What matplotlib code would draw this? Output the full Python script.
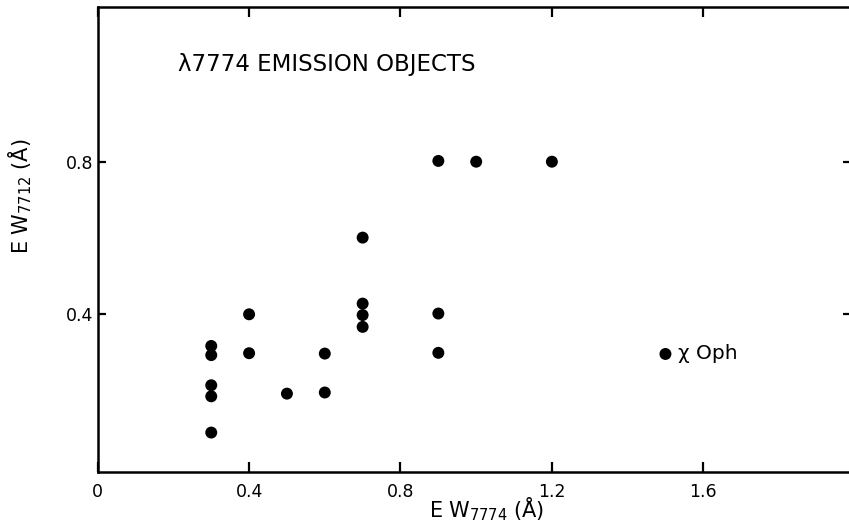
import matplotlib
matplotlib.use("Agg")
import matplotlib.pyplot as plt

# ---- data ----
ew7774 = [0.3, 0.3, 0.3, 0.3, 0.3,
          0.4, 0.4,
          0.5,
          0.6, 0.6,
          0.7, 0.7, 0.7, 0.7,
          0.9, 0.9, 0.9,
          1.0,
          1.2]
ew7712 = [0.317, 0.293, 0.214, 0.185, 0.090,
          0.400, 0.298,
          0.192,
          0.297, 0.195,
          0.601, 0.428, 0.398, 0.367,
          0.802, 0.402, 0.299,
          0.800,
          0.800]
chi_oph_x = [1.5]
chi_oph_y = [0.296]
chi_oph_label = "χ Oph"

x_ticks = [0, 0.4, 0.8, 1.2, 1.6]
x_tick_labels = ["0", "0.4", "0.8", "1.2", "1.6"]
y_ticks = [0.4, 0.8]
y_tick_labels = ["0.4", "0.8"]

title_text = "λ7774 EMISSION OBJECTS"
x_label = r"E W$_{\mathrm{7774}}$ (Å)"
y_label = r"E W$_{\mathrm{7712}}$ (Å)"

# ---- style ----
plt.rcParams['font.family'] = ['DejaVu Sans']
plt.rcParams['mathtext.fontset'] = 'dejavusans'

W, H = 849, 525
fig = plt.figure(figsize=(W / 100, H / 100), dpi=100)
fig.patch.set_facecolor('white')
ax = fig.add_axes([97.7 / W, 53.3 / H, 753.2 / W, 464.4 / H])

ax.scatter(ew7774, ew7712, s=74, color='black', edgecolors='none', zorder=3)
ax.scatter(chi_oph_x, chi_oph_y, s=74, color='black', edgecolors='none', zorder=3)
ax.annotate(chi_oph_label, xy=(chi_oph_x[0], chi_oph_y[0]), xytext=(9, 0),
            textcoords='offset points', ha='left', va='center', fontsize=14.5)

ax.set_xlim(0, 1.99)
ax.set_ylim(-0.0126, 1.2047)

ax.set_xticks(x_ticks)
ax.set_xticklabels(x_tick_labels)
ax.set_yticks(y_ticks)
ax.set_yticklabels(y_tick_labels)

ax.tick_params(axis='x', direction='in', length=7.5, width=1.6, top=True,
               labelsize=12.5, pad=8)
ax.tick_params(axis='y', direction='in', length=6, width=1.6, right=True,
               labelsize=12.5, pad=3)

for side in ['left', 'bottom', 'top']:
    ax.spines[side].set_linewidth(1.8)
ax.spines['right'].set_visible(False)

ax.text(0.212, 1.0535, title_text, ha='left', va='center', fontsize=16.5)

ax.set_xlabel(x_label, fontsize=15)
ax.xaxis.set_label_coords((487 - 97.7) / 753.2, -0.050)
ax.set_ylabel(y_label, fontsize=15)
ax.yaxis.set_label_coords(-0.085, 0.594)

fig.savefig('out.png', dpi=100, facecolor='white')
